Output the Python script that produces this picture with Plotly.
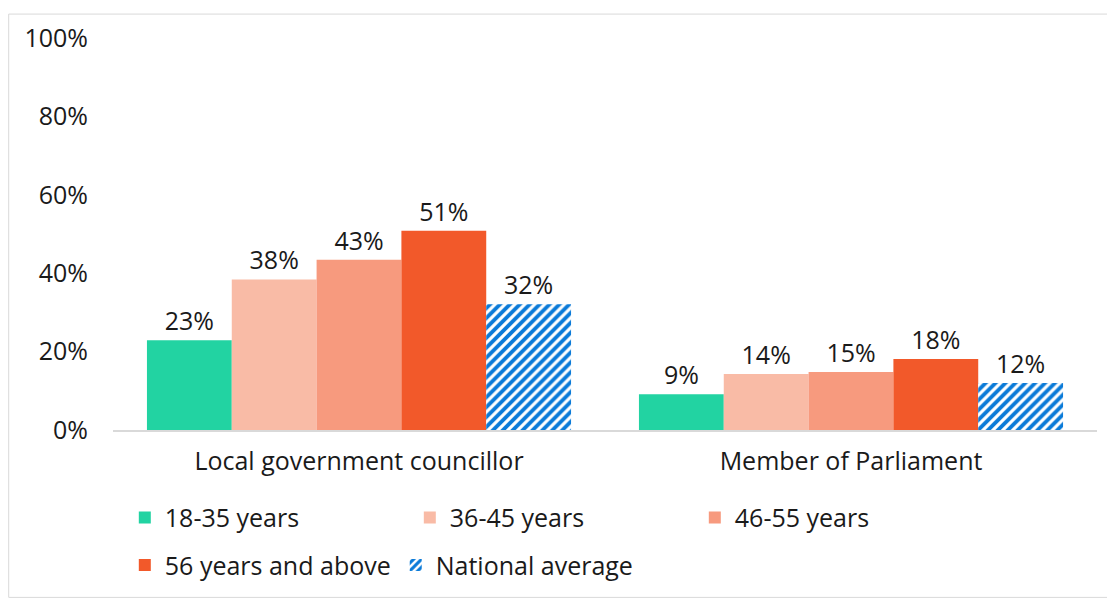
import plotly.graph_objects as go

categories = ["Local government councillor", "Member of Parliament"]
groups = ["18-35 years", "36-45 years", "46-55 years", "56 years and above", "National average"]
values = {
    "18-35 years": [22.9, 9.1],
    "36-45 years": [38.4, 14.3],
    "46-55 years": [43.4, 14.8],
    "56 years and above": [50.8, 18.1],
    "National average": [32.1, 12.0],
}
colors = ["#22D3A2", "#F9BBA6", "#F79A7E", "#F2592A", "#0A7AD8"]
legend_of = ["legend", "legend", "legend", "legend2", "legend2"]

FONT = "Open Sans"
FS = 25
fig = go.Figure()
for g, c, lg in zip(groups, colors, legend_of):
    marker = dict(color=c, line=dict(width=0))
    if g == "National average":
        marker = dict(color="white", line=dict(width=0),
                      pattern=dict(shape="/", fgcolor=c, bgcolor="white", fgopacity=1,
                                   size=7, solidity=0.55, fillmode="replace"))
    fig.add_trace(go.Bar(
        x=categories, y=values[g], name=g, marker=marker, legend=lg,
        texttemplate="%{y:.0f}%", textposition="outside", cliponaxis=False,
        textfont=dict(family=FONT, size=FS, color="#1a1a1a"),
    ))

# page has an 8px body margin, so the figure is shifted accordingly
fig.update_layout(
    width=1107, height=592,
    margin=dict(l=105, r=18, t=25, b=170),
    paper_bgcolor="white", plot_bgcolor="white",
    barmode="group", bargap=0.138, bargroupgap=0,
    font=dict(family=FONT, size=FS, color="#1a1a1a"),
    yaxis=dict(range=[0, 100], dtick=20, ticksuffix="%", showgrid=False,
               zeroline=False, showline=False, ticks="", ticklabelstandoff=24,
               tickfont=dict(size=FS)),
    xaxis=dict(showline=True, linecolor="#d9d9d9", linewidth=1.5, ticks="",
               ticklabelstandoff=8, tickfont=dict(size=FS)),
    legend=dict(orientation="h", x=0.012, y=-0.224, xanchor="left", yanchor="middle",
                entrywidth=240, font=dict(size=FS), itemwidth=30, traceorder="normal"),
    legend2=dict(orientation="h", x=0.012, y=-0.345, xanchor="left", yanchor="middle",
                 font=dict(size=FS), itemwidth=30, traceorder="normal"),
    showlegend=True,
    shapes=[dict(type="rect", xref="paper", yref="paper",
                 x0=-0.106, x1=1.017, y0=-0.427, y1=1.061,
                 line=dict(color="#d9d9d9", width=1))],
)

fig.write_html("out.html")
